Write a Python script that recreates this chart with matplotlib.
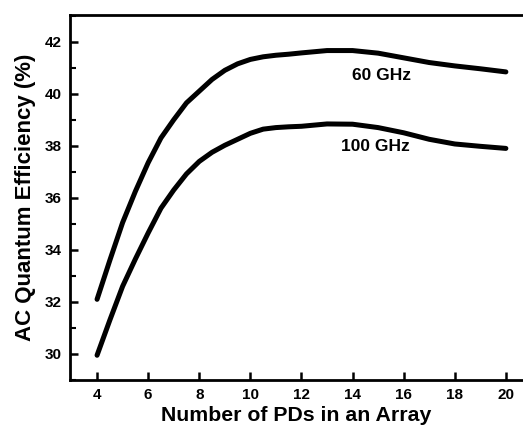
import matplotlib
matplotlib.use("Agg")
import matplotlib.pyplot as plt
from matplotlib.ticker import MultipleLocator

plt.rcParams['font.family'] = ['Liberation Sans', 'DejaVu Sans']
plt.rcParams['font.weight'] = 'bold'

# number of photodiodes in the array
n_pd = [4, 4.5, 5, 5.5, 6, 6.5, 7, 7.5, 8, 8.5, 9, 9.5, 10, 10.5, 11, 11.5,
        12, 13, 14, 15, 16, 17, 18, 19, 20]

# AC quantum efficiency (%)
eff_60ghz = [32.1, 33.6, 35.05, 36.25, 37.35, 38.3, 39.0, 39.65, 40.1, 40.55,
             40.9, 41.15, 41.32, 41.42, 41.48, 41.52, 41.57, 41.66, 41.66,
             41.56, 41.38, 41.2, 41.07, 40.96, 40.84]
eff_100ghz = [29.95, 31.3, 32.6, 33.65, 34.65, 35.6, 36.3, 36.92, 37.4, 37.75,
              38.02, 38.25, 38.48, 38.64, 38.7, 38.73, 38.75, 38.84, 38.83,
              38.7, 38.5, 38.25, 38.07, 37.98, 37.9]

fig = plt.figure(figsize=(5.23, 4.26), dpi=100)
ax = fig.add_axes([0.1338, 0.108, 0.8662, 0.857])

ax.plot(n_pd, eff_60ghz, color='black', lw=3.6, solid_capstyle='round', solid_joinstyle='round')
ax.plot(n_pd, eff_100ghz, color='black', lw=3.6, solid_capstyle='round', solid_joinstyle='round')

ax.text(15.14, 40.72, '60 GHz', fontsize=12.5, fontweight='bold', ha='center', va='center')
ax.text(14.88, 37.96, '100 GHz', fontsize=12.5, fontweight='bold', ha='center', va='center')

ax.set_xlim(2.94, 20.67)
ax.set_ylim(29.0, 43.03)
ax.xaxis.set_major_locator(MultipleLocator(2))
ax.yaxis.set_major_locator(MultipleLocator(2))
ax.yaxis.set_minor_locator(MultipleLocator(1))

ax.spines['right'].set_visible(False)
for side in ['left', 'bottom', 'top']:
    ax.spines[side].set_linewidth(2.0)

ax.tick_params(which='major', direction='in', length=6, width=1.8, labelsize=11, pad=6)
ax.tick_params(which='minor', direction='in', length=4, width=1.5)
ax.tick_params(top=False, right=False)
for lbl in ax.get_xticklabels() + ax.get_yticklabels():
    lbl.set_fontweight('bold')

ax.set_xlabel('Number of PDs in an Array', fontsize=15.3, fontweight='bold', labelpad=3)
ax.set_ylabel('AC Quantum Efficiency (%)', fontsize=16, fontweight='bold', labelpad=6)

fig.savefig('out.png', dpi=100)
